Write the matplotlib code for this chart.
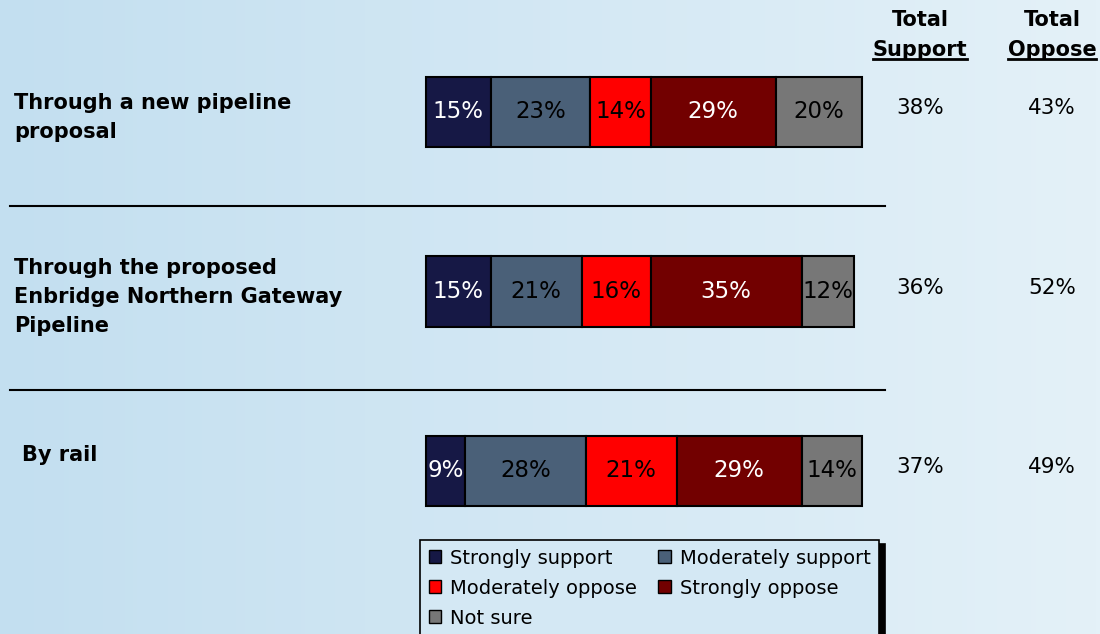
import numpy as np
import matplotlib
matplotlib.use('Agg')
import matplotlib.pyplot as plt
from matplotlib.patches import Patch

# data
questions = ['Through a new pipeline\nproposal',
             'Through the proposed\nEnbridge Northern Gateway\nPipeline',
             'By rail']
series = ['Strongly support', 'Moderately support', 'Moderately oppose',
          'Strongly oppose', 'Not sure']
strongly_support = [15, 15, 9]
moderately_support = [23, 21, 28]
moderately_oppose = [14, 16, 21]
strongly_oppose = [29, 35, 29]
not_sure = [20, 12, 14]
total_support = [38, 36, 37]
total_oppose = [43, 52, 49]

colors = ['#161845', '#4a6078', '#ff0000', '#720000', '#777777']
text_colors = ['white', 'black', 'black', 'white', 'black']

W, H = 1100, 634
fig = plt.figure(figsize=(W/100, H/100), dpi=100)

# background gradient
bg = fig.add_axes([0, 0, 1, 1])
grad = np.linspace(0, 1, 256).reshape(1, -1)
cmap = matplotlib.colors.LinearSegmentedColormap.from_list('bg', ['#c3dff0', '#e4f1f8'])
bg.imshow(grad, aspect='auto', cmap=cmap, extent=[0, 1, 0, 1])
bg.axis('off')

# main axes over the whole figure: 0% at px 426, 4.32 px per %
pxper = 4.32
x0 = 426
ax = fig.add_axes([0, 0, 1, 1])
ax.patch.set_alpha(0)
ax.set_xlim(-x0/pxper, (W - x0)/pxper)
yunit = 179.5
ytop = 112
ax.set_ylim((H - ytop)/yunit, -ytop/yunit)
ax.axis('off')

y = np.arange(len(questions))
vals = [strongly_support, moderately_support, moderately_oppose, strongly_oppose, not_sure]
left = np.zeros(len(questions))
for s, v, c, tc in zip(series, vals, colors, text_colors):
    v = np.array(v)
    ax.barh(y, v, left=left, height=0.39, color=c, edgecolor='black', linewidth=1.5, label=s)
    for yi, l, vi in zip(y, left, v):
        ax.text(l + vi/2, yi, f'{vi}%', ha='center', va='center', color=tc, fontsize=16.5)
    left += v

# question labels
label_x = [-95.4, -95.4, -93.5]
label_dy = [0.03, 0.03, -0.09]
for yi, q, lx, dy in zip(y, questions, label_x, label_dy):
    ax.text(lx, yi + dy, q, ha='left', va='center', fontsize=15, fontweight='bold',
            linespacing=1.55)

# separators
for sy in [0.524, 1.549]:
    ax.plot([(10 - x0)/pxper, (885 - x0)/pxper], [sy, sy], color='black', lw=1.5)

# totals
xs = (920 - x0)/pxper
xo = (1052 - x0)/pxper
for yi, ts, to in zip(y, total_support, total_oppose):
    ax.text(xs, yi - 0.02, f'{ts}%', ha='center', va='center', fontsize=15.5)
    ax.text(xo, yi - 0.02, f'{to}%', ha='center', va='center', fontsize=15.5)

renderer = fig.canvas.get_renderer()
for xc, word in [(xs, 'Support'), (xo, 'Oppose')]:
    ax.text(xc, (20 - ytop)/yunit, 'Total', ha='center', va='center', fontsize=15, fontweight='bold')
    t = ax.text(xc, (50 - ytop)/yunit, word, ha='center', va='center', fontsize=15, fontweight='bold')
    bb = t.get_window_extent(renderer)
    inv = ax.transData.inverted()
    (a, b), (c, d) = inv.transform([(bb.x0, bb.y0 + 1), (bb.x1, bb.y0 + 1)])
    ax.plot([a, c], [b, d], color='black', lw=2)

# legend (row-wise order for 2 columns)
handles = [Patch(facecolor=c, edgecolor='black', linewidth=1) for c in colors]
order = [0, 2, 4, 1, 3]
leg = ax.legend([handles[i] for i in order], [series[i] for i in order], ncol=2,
                loc='upper left', bbox_to_anchor=(420/W, 1 - 540/H), bbox_transform=fig.transFigure,
                borderaxespad=0, fontsize=14, frameon=True, fancybox=False,
                handlelength=0.65, handleheight=0.65, handletextpad=0.45,
                columnspacing=1.1, labelspacing=0.56, borderpad=0.45,
                shadow={'color': 'black', 'alpha': 1, 'ox': 4, 'oy': -3})
leg.get_frame().set_edgecolor('black')
leg.get_frame().set_facecolor('#d4e8f4')
leg.get_frame().set_linewidth(1.2)

plt.savefig('out.png', dpi=100)
